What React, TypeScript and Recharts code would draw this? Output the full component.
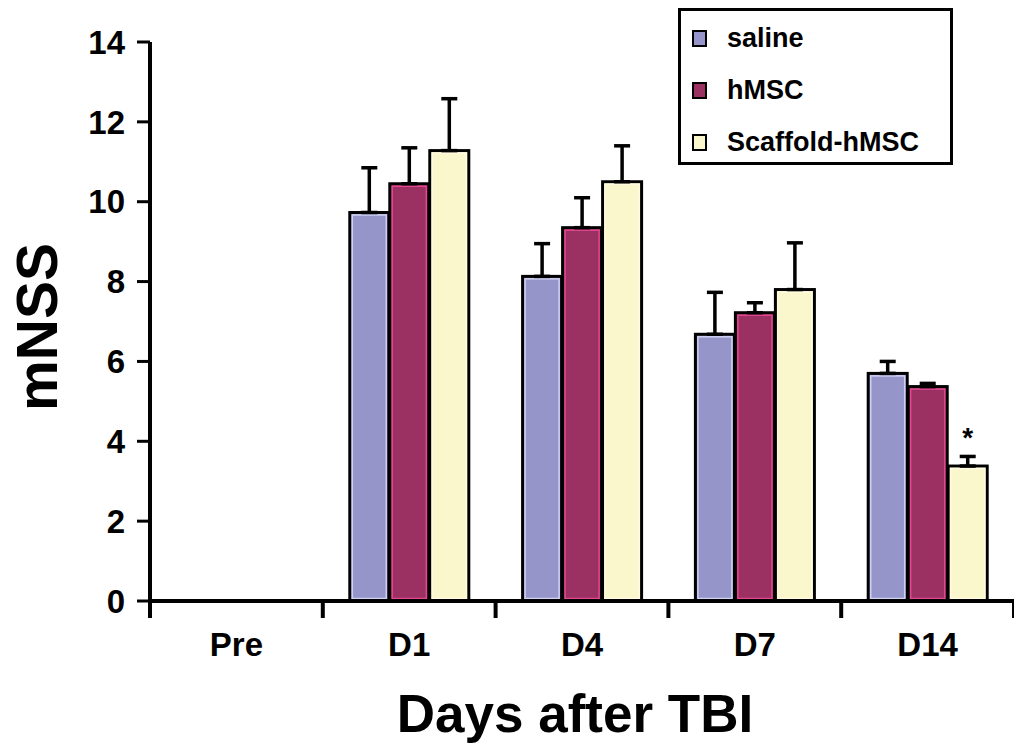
import React from 'react';
import { BarChart, Bar, XAxis, YAxis, ErrorBar, LabelList, Label } from 'recharts';

const categories = ['Pre', 'D1', 'D4', 'D7', 'D14'];
const salineValues = [null, 9.73, 8.13, 6.68, 5.7];
const salineErrors = [null, 1.12, 0.82, 1.05, 0.3];
const hmscValues = [null, 10.45, 9.35, 7.22, 5.37];
const hmscErrors = [null, 0.9, 0.75, 0.25, 0.08];
const scaffoldValues = [null, 11.28, 10.5, 7.8, 3.38];
const scaffoldErrors = [null, 1.3, 0.9, 1.17, 0.24];
const scaffoldSig = ['', '', '', '', '*'];
const yTicks = [0, 2, 4, 6, 8, 10, 12, 14];

const seriesNames = ['saline', 'hMSC', 'Scaffold-hMSC'];
const seriesKeys = ['saline', 'hmsc', 'scaffold'];
const seriesFill = ['#9595c9', '#9a3162', '#fbf7cc'];
const seriesInner = ['#cfd0f2', '#e2468f', '#fffbe2'];

const data = categories.map((c, i) => ({
  name: c,
  saline: salineValues[i],
  salineErr: salineErrors[i] == null ? null : [0, salineErrors[i]],
  hmsc: hmscValues[i],
  hmscErr: hmscErrors[i] == null ? null : [0, hmscErrors[i]],
  scaffold: scaffoldValues[i],
  scaffoldErr: scaffoldErrors[i] == null ? null : [0, scaffoldErrors[i]],
  sig: scaffoldSig[i],
}));

const FONT = '"Liberation Sans", Arial, Helvetica, sans-serif';
const W = 1014;
const H = 752;
const LEFT = 150;
const TOP = 42;
const XAXIS_H = 151;
const bandW = (W - LEFT) / categories.length;

const makeShape = (inner: string) => (props: any) => {
  const { x, y, width, height, fill } = props;
  if (!height || height <= 0 || isNaN(y)) return <g />;
  return (
    <g>
      <rect x={x} y={y} width={width} height={height} fill={fill} stroke="#000" strokeWidth={3} />
      <rect x={x + 2.5} y={y + 2.5} width={Math.max(0, width - 5)} height={Math.max(0, height - 5)} fill="none" stroke={inner} strokeWidth={1.5} />
    </g>
  );
};

const XTick = (props: any) => {
  const { x, y, payload, index } = props;
  const left = x - bandW / 2;
  return (
    <g>
      <line x1={left} y1={y - 2} x2={left} y2={y + 15} stroke="#000" strokeWidth={4} />
      {index === categories.length - 1 && (
        <line x1={left + bandW} y1={y - 2} x2={left + bandW} y2={y + 15} stroke="#000" strokeWidth={4} />
      )}
      <text x={x} y={y + 53} textAnchor="middle" fontFamily={FONT} fontWeight="bold" fontSize={33} fill="#000">
        {payload.value}
      </text>
    </g>
  );
};

const SigLabel = (props: any) => {
  const { x, y, width, height, value, index } = props;
  if (!value) return null;
  const v = scaffoldValues[index] as number;
  const e = scaffoldErrors[index] as number;
  const pxPerUnit = height / v;
  const top = y - e * pxPerUnit;
  return (
    <text x={x + width / 2} y={top + 1} textAnchor="middle" fontFamily={FONT} fontWeight="bold" fontSize={28} fill="#000">
      {value}
    </text>
  );
};

const LegendBox = () => (
  <div
    style={{
      position: 'absolute',
      left: 678,
      top: 8,
      width: 269,
      height: 151,
      border: '3px solid #000',
      background: '#fff',
      fontFamily: FONT,
      fontWeight: 'bold',
      fontSize: 27,
      color: '#000',
      boxSizing: 'content-box',
    }}
  >
    {seriesNames.map((n, i) => (
      <div key={n} style={{ position: 'absolute', left: 11, top: 12 + i * 52, height: 30, display: 'flex', alignItems: 'center' }}>
        <div style={{ width: 11, height: 13, border: '2.5px solid #000', background: seriesFill[i], marginRight: 20 }} />
        <span style={{ lineHeight: '30px' }}>{n}</span>
      </div>
    ))}
  </div>
);

export default function App() {
  return (
    <div style={{ position: 'absolute', left: 0, top: 0, width: W, height: H, background: '#fff' }}>
      <BarChart
        width={W}
        height={H}
        data={data}
        margin={{ top: TOP, right: 0, bottom: 0, left: 0 }}
        barSize={39}
        barGap={1}
        style={{ fontFamily: FONT }}
      >
        <XAxis
          dataKey="name"
          height={XAXIS_H}
          axisLine={{ stroke: '#000', strokeWidth: 4 }}
          tickLine={false}
          tickSize={0}
          tick={<XTick />}
          interval={0}
        >
          <Label
            content={() => (
              <text x={575} y={732} textAnchor="middle" fontFamily={FONT} fontWeight="bold" fontSize={53} fill="#000">
                Days after TBI
              </text>
            )}
          />
        </XAxis>
        <YAxis
          width={LEFT}
          domain={[0, 14]}
          ticks={yTicks}
          interval={0}
          axisLine={{ stroke: '#000', strokeWidth: 4 }}
          tickLine={{ stroke: '#000', strokeWidth: 3 }}
          tickSize={13}
          tickMargin={12}
          tick={{ fill: '#000', fontSize: 33, fontWeight: 'bold', fontFamily: FONT }}
        >
          <Label
            content={() => (
              <text x={57} y={327} transform="rotate(-90, 57, 327)" textAnchor="middle" fontFamily={FONT} fontWeight="bold" fontSize={57} fill="#000">
                mNSS
              </text>
            )}
          />
        </YAxis>
        {seriesKeys.map((k, i) => (
          <Bar
            key={k}
            dataKey={k}
            name={seriesNames[i]}
            fill={seriesFill[i]}
            shape={makeShape(seriesInner[i])}
            isAnimationActive={false}
          >
            <ErrorBar dataKey={`${k}Err`} width={8} stroke="#000" strokeWidth={3.5} direction="y" />
            {k === 'scaffold' && <LabelList dataKey="sig" content={<SigLabel />} />}
          </Bar>
        ))}
      </BarChart>
      <LegendBox />
    </div>
  );
}
